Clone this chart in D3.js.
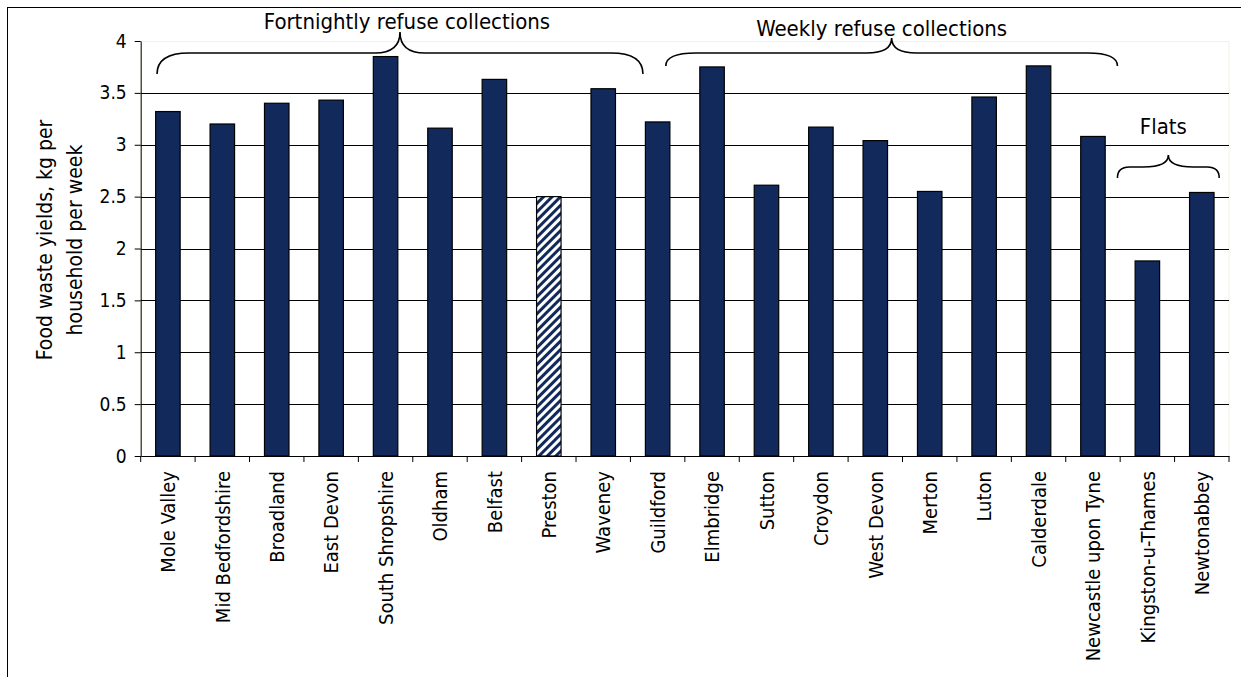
<!DOCTYPE html>
<html>
	<head>
		<title>Food waste yields</title>
		<script src="https://d3js.org/d3.v7.min.js"></script>
		<style>
			body { margin: 0; background: #fff; }
		</style>
	</head>
	<body>
		<div id="chart"></div>
		<script>
			// data
			var councils = ["Mole Valley", "Mid Bedfordshire", "Broadland", "East Devon", "South Shropshire",
				"Oldham", "Belfast", "Preston", "Waveney", "Guildford", "Elmbridge", "Sutton", "Croydon",
				"West Devon", "Merton", "Luton", "Calderdale", "Newcastle upon Tyne", "Kingston-u-Thames", "Newtonabbey"];
			var yields = [3.32, 3.20, 3.40, 3.43, 3.85, 3.16, 3.63, 2.50, 3.54, 3.22, 3.75, 2.61, 3.17,
				3.04, 2.55, 3.46, 3.76, 3.08, 1.88, 2.54];
			var hatched = ["Preston"];
			var yTicks = [0, 0.5, 1, 1.5, 2, 2.5, 3, 3.5, 4];

			// brace groups, start/end given in band units
			var groupNames = ["Fortnightly refuse collections", "Weekly refuse collections", "Flats"];
			var groupStart = [0.3, 9.65, 17.95];
			var groupEnd = [9.23, 17.95, 19.82];

			var width = 1241, height = 677;
			// careful: "top" is taken by window.top
			var pLeft = 140.7, pRight = 1229, pTop = 41, pBottom = 456;
			var navy = "#12295c";
			var font = "'DejaVu Sans Condensed', 'DejaVu Sans', sans-serif";

			var svg = d3.select("#chart")
				.append("svg")
				.attr("width", width)
				.attr("height", height)
				.style("font-family", font);

			var defs = svg.append("defs");
			var pat = defs.append("pattern")
				.attr("id", "hatch")
				.attr("patternUnits", "userSpaceOnUse")
				.attr("width", 6)
				.attr("height", 6)
				.attr("patternTransform", "rotate(45)");
			pat.append("rect").attr("width", 6).attr("height", 6).attr("fill", "#fff");
			pat.append("rect").attr("width", 3).attr("height", 6).attr("fill", navy);

			// outer chart border
			svg.append("rect")
				.attr("x", 7.5)
				.attr("y", 7.5)
				.attr("width", 1300)
				.attr("height", 700)
				.attr("fill", "none")
				.attr("stroke", "#000");

			var x = d3.scaleBand().domain(councils).range([pLeft, pRight]).paddingInner(0.55).paddingOuter(0.275);
			var y = d3.scaleLinear().domain([0, 4]).range([pBottom, pTop]);

			// plot area
			svg.append("rect")
				.attr("x", pLeft)
				.attr("y", pTop + 0.5)
				.attr("width", pRight - pLeft)
				.attr("height", pBottom - pTop)
				.attr("fill", "#fff")
				.attr("stroke", "#f1f1e4");

			// gridlines
			svg.selectAll("line.grid")
				.data(yTicks.filter(function(d){ return d > 0 && d < 4; }))
				.enter().append("line")
				.attr("class", "grid")
				.attr("x1", pLeft)
				.attr("x2", pRight)
				.attr("y1", function(d){ return Math.round(y(d)) + 0.5; })
				.attr("y2", function(d){ return Math.round(y(d)) + 0.5; })
				.attr("stroke", "#000")
				.attr("stroke-width", 1);

			// bars
			svg.selectAll("rect.bar")
				.data(councils)
				.enter().append("rect")
				.attr("class", "bar")
				.attr("x", function(d){ return x(d); })
				.attr("y", function(d, i){ return y(yields[i]); })
				.attr("width", x.bandwidth())
				.attr("height", function(d, i){ return pBottom - y(yields[i]); })
				.attr("fill", function(d){ return hatched.indexOf(d) >= 0 ? "url(#hatch)" : navy; })
				.attr("stroke", "#000")
				.attr("stroke-width", 1.2);

			// y axis
			var yAxis = d3.axisLeft(y)
				.tickValues(yTicks)
				.tickSize(6)
				.tickSizeOuter(0)
				.tickPadding(8)
				.tickFormat(function(d){ return String(d); });
			var yg = svg.append("g").attr("transform", "translate(" + pLeft + ",0)").call(yAxis);
			yg.selectAll("text").style("font-size", "19px").style("font-family", font).attr("fill", "#000");
			yg.selectAll("line, path").attr("stroke", "#000");

			// x axis: labels at band centres, ticks at band edges
			var xAxis = d3.axisBottom(x).tickSize(0).tickSizeOuter(0);
			var xg = svg.append("g").attr("transform", "translate(0," + pBottom + ")").call(xAxis);
			xg.select("path").attr("stroke", "#000");
			xg.selectAll("text")
				.attr("transform", "rotate(-90)")
				.attr("text-anchor", "end")
				.attr("x", -15)
				.attr("y", 0)
				.attr("dy", "0.36em")
				.attr("fill", "#000")
				.style("font-size", "20px")
				.style("font-family", font);
			xg.selectAll("line.edge")
				.data(d3.range(councils.length + 1))
				.enter().append("line")
				.attr("class", "edge")
				.attr("x1", function(i){ return pLeft + i * x.step(); })
				.attr("x2", function(i){ return pLeft + i * x.step(); })
				.attr("y1", 0)
				.attr("y2", 6)
				.attr("stroke", "#000");

			// y title
			var yt = svg.append("text")
				.attr("transform", "translate(52,240) rotate(-90)")
				.attr("text-anchor", "middle")
				.style("font-size", "21px");
			yt.append("tspan").attr("x", 0).attr("y", 0).text("Food waste yields, kg per");
			yt.append("tspan").attr("x", 0).attr("y", 30).text("household per week");

			// curly braces over groups
			function bracePath(x1, x2, yEnd, yMid, yPeak, r){
				var xm = (x1 + x2) / 2;
				var r2 = Math.min(25, (x2 - x1) / 4);
				return "M" + x1 + "," + yEnd +
					"Q" + x1 + "," + yMid + " " + (x1 + r) + "," + yMid +
					"L" + (xm - r2) + "," + yMid +
					"Q" + xm + "," + yMid + " " + xm + "," + yPeak +
					"Q" + xm + "," + yMid + " " + (xm + r2) + "," + yMid +
					"L" + (x2 - r) + "," + yMid +
					"Q" + x2 + "," + yMid + " " + x2 + "," + yEnd;
			}
			var braceEnd = [74, 66, 178], braceMid = [53, 53, 167], bracePeak = [32, 38, 155];
			var braceR = [32, 30, 12], labelY = [29, 36, 134], labelShift = [7, -10, -5];
			groupNames.forEach(function(name, i){
				var x1 = pLeft + groupStart[i] * x.step();
				var x2 = pLeft + groupEnd[i] * x.step();
				svg.append("path")
					.attr("d", bracePath(x1, x2, braceEnd[i], braceMid[i], bracePeak[i], braceR[i]))
					.attr("fill", "none")
					.attr("stroke", "#000")
					.attr("stroke-width", 1.6);
				svg.append("text")
					.text(name)
					.attr("x", (x1 + x2) / 2 + labelShift[i])
					.attr("y", labelY[i])
					.attr("text-anchor", "middle")
					.style("font-size", "22px");
			});
		</script>
	</body>
</html>
